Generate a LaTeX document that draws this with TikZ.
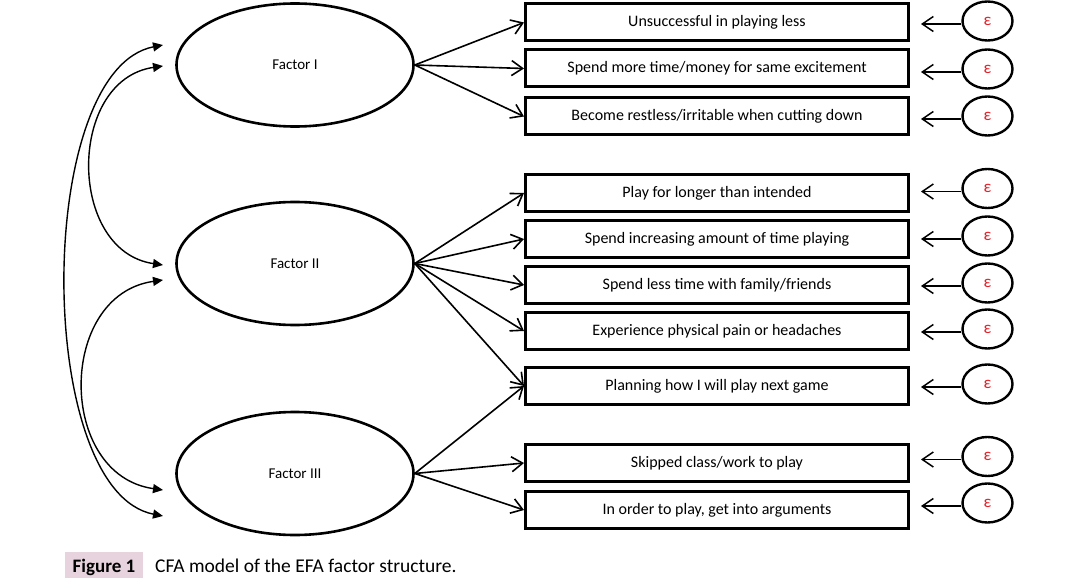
\documentclass[tikz,border=0pt]{standalone}
\usepackage{fontspec}
\setmainfont{Carlito}
\usetikzlibrary{shapes.geometric,arrows.meta}
\definecolor{epsred}{RGB}{228,32,40}
\definecolor{capbg}{RGB}{231,211,222}
\newcommand{\epsmark}{\raisebox{-2.5pt}{ε}}
\begin{document}
\begin{tikzpicture}[x=1pt,y=-1pt,
  factor/.style={ellipse,draw,line width=2.6pt,minimum width=237pt,minimum height=123pt,inner sep=0pt,font=\fontsize{15}{17}\selectfont},
  item/.style={rectangle,draw,line width=3pt,minimum width=383pt,minimum height=37pt,inner sep=0pt,font=\fontsize{16}{18}\selectfont},
  err/.style={ellipse,draw,line width=2.4pt,minimum width=50pt,minimum height=39pt,inner sep=0pt,text=epsred,font=\fontsize{17}{19}\selectfont},
  load/.style={line width=1.6pt,-{Straight Barb[length=11pt,width=15pt]}},
  errarrow/.style={line width=1.5pt,-{Straight Barb[length=11pt,width=15pt]},shorten >=11pt},
  cov/.style={line width=1.4pt,{Triangle[length=10pt,width=9pt]}-{Triangle[length=10pt,width=9pt]}}
]
\useasboundingbox (0,0) rectangle (1087,580);

% factors
\node[factor] (f1) at (295,65) {\raisebox{-2pt}{Factor I}};
\node[factor] (f2) at (295,263.5) {\raisebox{-2pt}{Factor II}};
\node[factor] (f3) at (295,473.5) {Factor III};

% items
\node[item] (b1) at (717,22.5) {Unsuccessful in playing less};
\node[item] (b2) at (717,68.5) {Spend more time/money for same excitement};
\node[item] (b3) at (717,116.5) {Become restless/irritable when cutting down};
\node[item] (b4) at (717,193) {Play for longer than intended};
\node[item] (b5) at (717,239) {Spend increasing amount of time playing};
\node[item] (b6) at (717,285) {Spend less time with family/friends};
\node[item] (b7) at (717,331) {Experience physical pain or headaches};
\node[item] (b8) at (717,386) {Planning how I will play next game};
\node[item] (b9) at (717,463) {Skipped class/work to play};
\node[item] (b10) at (717,510) {In order to play, get into arguments};

% errors
\node[err] (e1) at (987.5,21) {\epsmark};
\node[err] (e2) at (987.5,69) {\epsmark};
\node[err] (e3) at (987.5,116) {\epsmark};
\node[err] (e4) at (987.5,188.5) {\epsmark};
\node[err] (e5) at (987.5,236) {\epsmark};
\node[err] (e6) at (987.5,283) {\epsmark};
\node[err] (e7) at (987.5,329) {\epsmark};
\node[err] (e8) at (987.5,384) {\epsmark};
\node[err] (e9) at (987.5,456.5) {\epsmark};
\node[err] (e10) at (987.5,503) {\epsmark};

\foreach \i in {1,...,10}{
  \draw[errarrow] ([yshift=-3pt]e\i.west) -- ([yshift=-3pt]e\i.west -| b\i.east);
}

% loadings
\foreach \i in {1,2,3}{\draw[load] (f1.east) -- (b\i.west);}
\foreach \i in {4,...,8}{\draw[load] (f2.east) -- (b\i.west);}
\foreach \i in {8,9,10}{\draw[load] (f3.east) -- (b\i.west);}

% covariances
\coordinate (c1a) at (163,45);
\coordinate (c1b) at (163,66);
\coordinate (c2a) at (163,265);
\coordinate (c2b) at (163,280);
\coordinate (c3a) at (163,490);
\coordinate (c3b) at (163,516);
\draw[cov] (c1a) .. controls (34,70) and (34,491) .. (c3b);
\draw[cov] (c1b) .. controls (67,80) and (67,251) .. (c2a);
\draw[cov] (c2b) .. controls (57,295) and (57,475) .. (c3a);

% caption
\node[fill=capbg,anchor=base,minimum width=78pt,inner xsep=0pt,inner ysep=0pt,text height=20pt,text depth=6pt,font=\fontsize{19}{22}\selectfont\bfseries] (figlabel) at (104,572) {Figure 1};
\node[anchor=base west,inner sep=0pt,font=\fontsize{19.5}{22}\selectfont] (captext) at (155,572) {CFA model of the EFA factor structure.};
\end{tikzpicture}
\end{document}
